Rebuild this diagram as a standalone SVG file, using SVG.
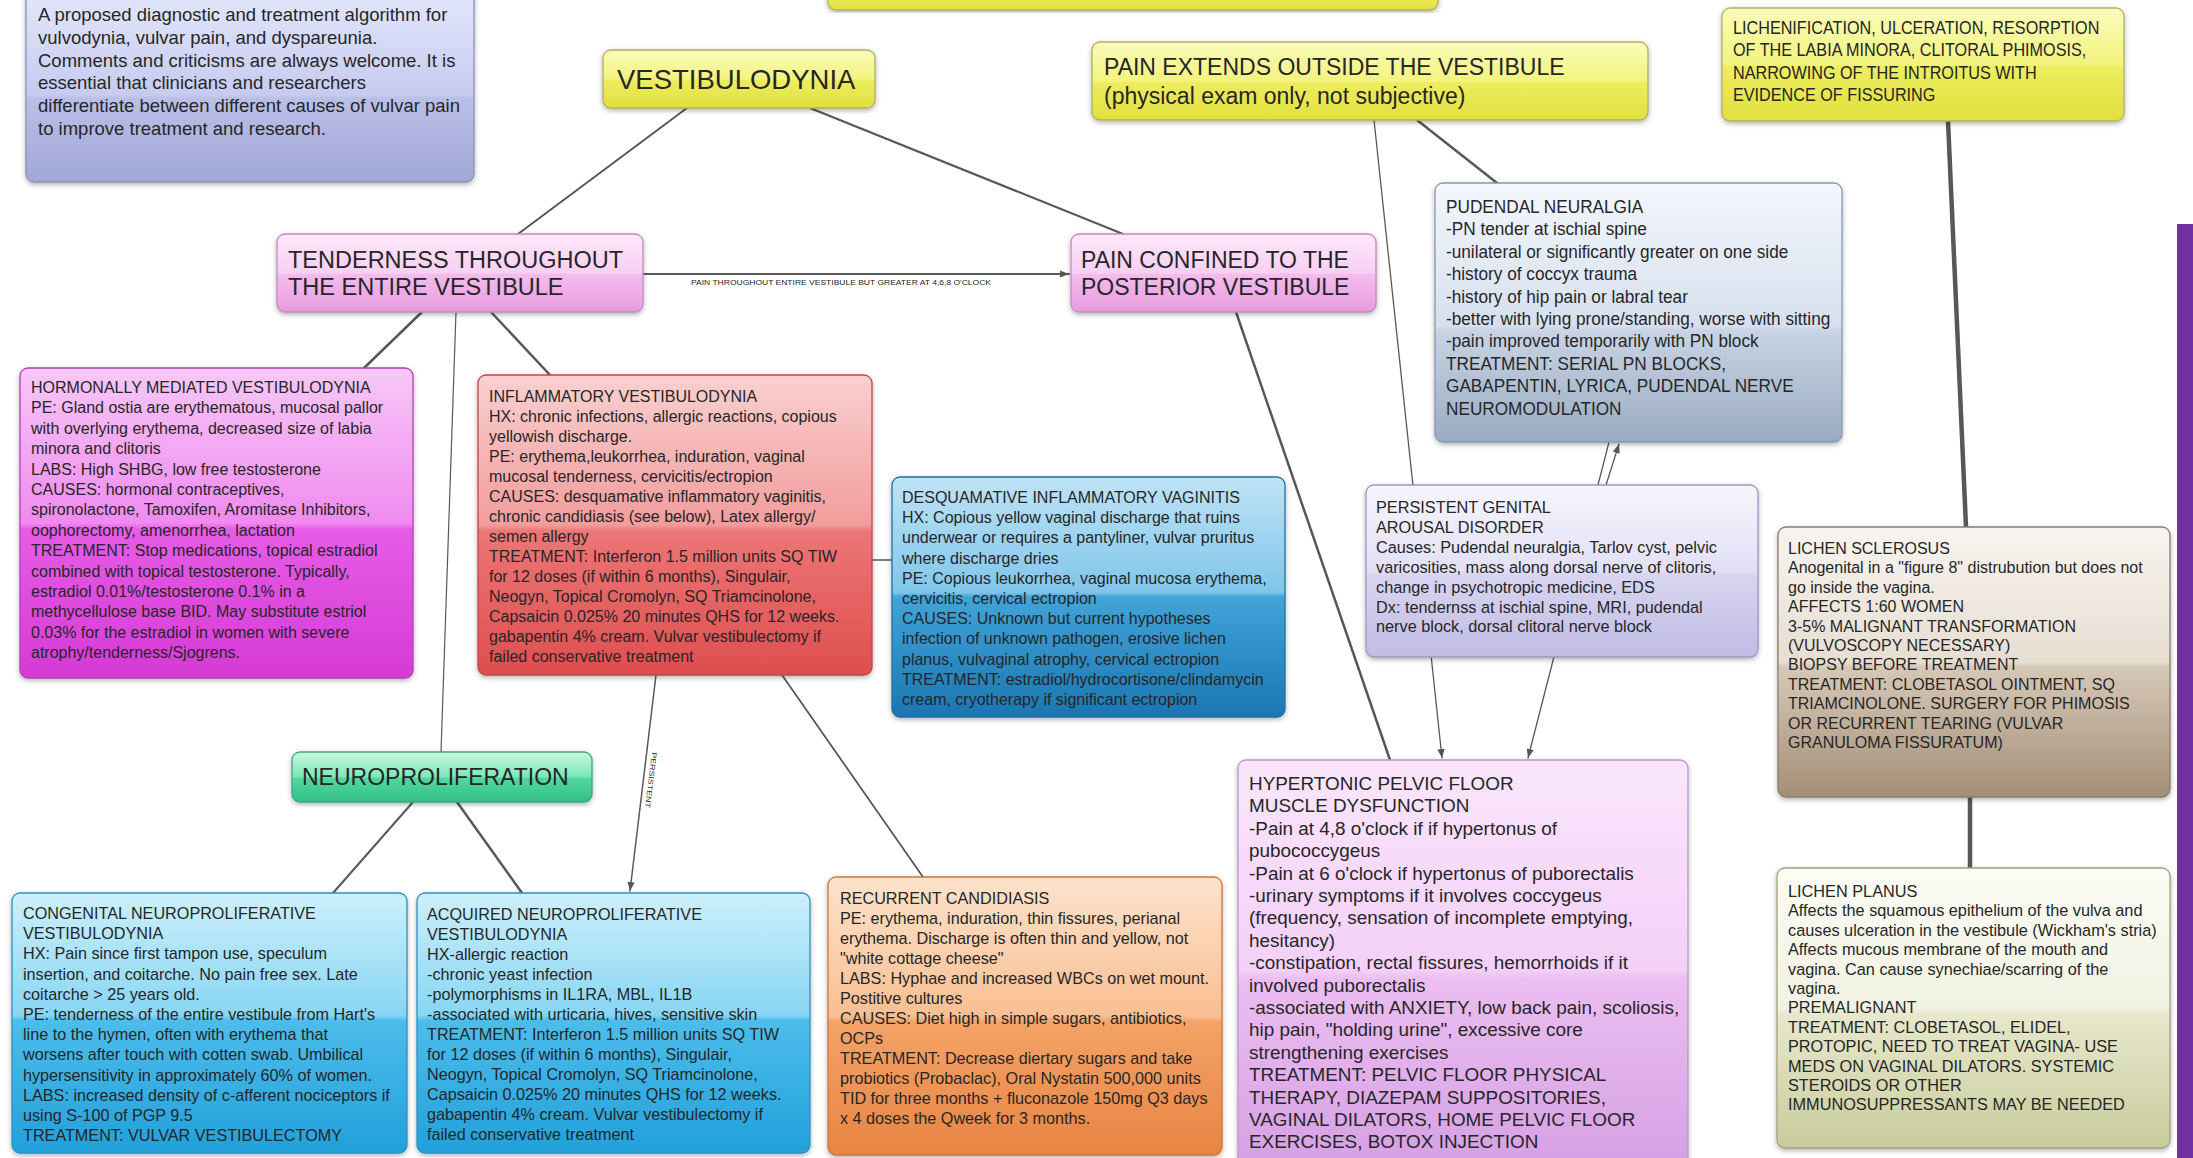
<svg xmlns="http://www.w3.org/2000/svg" width="2193" height="1158" viewBox="0 0 2193 1158">
<defs>
<linearGradient id="gYellow" x1="0" y1="0" x2="0" y2="1"><stop offset="0" stop-color="#fbfbbc"/><stop offset="0.5" stop-color="#f3f37e"/><stop offset="0.52" stop-color="#eded60"/><stop offset="1" stop-color="#e0e03e"/></linearGradient>
<linearGradient id="gPink" x1="0" y1="0" x2="0" y2="1"><stop offset="0" stop-color="#fde8fa"/><stop offset="0.5" stop-color="#f8cff3"/><stop offset="0.52" stop-color="#f4bced"/><stop offset="1" stop-color="#e89be0"/></linearGradient>
<linearGradient id="gMag" x1="0" y1="0" x2="0" y2="1"><stop offset="0" stop-color="#f7c8f7"/><stop offset="0.5" stop-color="#f08af0"/><stop offset="0.52" stop-color="#e65ce6"/><stop offset="1" stop-color="#d63ad6"/></linearGradient>
<linearGradient id="gRed" x1="0" y1="0" x2="0" y2="1"><stop offset="0" stop-color="#f9d0d0"/><stop offset="0.5" stop-color="#f39c9c"/><stop offset="0.52" stop-color="#ed7676"/><stop offset="1" stop-color="#de4e4e"/></linearGradient>
<linearGradient id="gBlue" x1="0" y1="0" x2="0" y2="1"><stop offset="0" stop-color="#bfe3f6"/><stop offset="0.48" stop-color="#80c6ea"/><stop offset="0.5" stop-color="#40a4d8"/><stop offset="1" stop-color="#1b76b2"/></linearGradient>
<linearGradient id="gCyan" x1="0" y1="0" x2="0" y2="1"><stop offset="0" stop-color="#cdf0fc"/><stop offset="0.47" stop-color="#88d6f4"/><stop offset="0.49" stop-color="#4cbdec"/><stop offset="1" stop-color="#22a0da"/></linearGradient>
<linearGradient id="gGreen" x1="0" y1="0" x2="0" y2="1"><stop offset="0" stop-color="#c8f8e0"/><stop offset="0.5" stop-color="#7ae8b9"/><stop offset="0.52" stop-color="#52d8a0"/><stop offset="1" stop-color="#34c088"/></linearGradient>
<linearGradient id="gOrange" x1="0" y1="0" x2="0" y2="1"><stop offset="0" stop-color="#fde3cc"/><stop offset="0.5" stop-color="#f8bf92"/><stop offset="0.52" stop-color="#f4a368"/><stop offset="1" stop-color="#e88442"/></linearGradient>
<linearGradient id="gViolet" x1="0" y1="0" x2="0" y2="1"><stop offset="0" stop-color="#fae6fc"/><stop offset="0.5" stop-color="#f4d0f8"/><stop offset="0.52" stop-color="#ecbef2"/><stop offset="1" stop-color="#d49ee2"/></linearGradient>
<linearGradient id="gLav" x1="0" y1="0" x2="0" y2="1"><stop offset="0" stop-color="#e4e8fc"/><stop offset="0.55" stop-color="#c6cbef"/><stop offset="0.57" stop-color="#babfe7"/><stop offset="1" stop-color="#a2a8d6"/></linearGradient>
<linearGradient id="gLav2" x1="0" y1="0" x2="0" y2="1"><stop offset="0" stop-color="#f6f5fd"/><stop offset="0.5" stop-color="#e2e0f6"/><stop offset="0.52" stop-color="#d8d5f1"/><stop offset="1" stop-color="#c0bce4"/></linearGradient>
<linearGradient id="gSteel" x1="0" y1="0" x2="0" y2="1"><stop offset="0" stop-color="#f4f7fc"/><stop offset="0.55" stop-color="#d6e0ee"/><stop offset="0.57" stop-color="#c8d4e4"/><stop offset="1" stop-color="#9aaac0"/></linearGradient>
<linearGradient id="gTan" x1="0" y1="0" x2="0" y2="1"><stop offset="0" stop-color="#f7f4ef"/><stop offset="0.5" stop-color="#e7ded2"/><stop offset="0.52" stop-color="#d6c8b6"/><stop offset="1" stop-color="#a48e78"/></linearGradient>
<linearGradient id="gOlive" x1="0" y1="0" x2="0" y2="1"><stop offset="0" stop-color="#fcfcf5"/><stop offset="0.5" stop-color="#f1f2e2"/><stop offset="0.52" stop-color="#e7e8cc"/><stop offset="1" stop-color="#c8cc9c"/></linearGradient>
<filter id="sh" x="-5%" y="-5%" width="110%" height="115%"><feDropShadow dx="0" dy="2" stdDeviation="2.5" flood-color="#000" flood-opacity="0.3"/></filter>
<marker id="arr" viewBox="0 0 10 10" refX="10" refY="5" markerWidth="10" markerHeight="9" markerUnits="userSpaceOnUse" orient="auto"><path d="M0,1 L10,5 L0,9 z" fill="#555"/></marker>
</defs>
<style>
.t{font-family:"Liberation Sans",Arial,Helvetica,sans-serif;fill:#262626}
.box{filter:url(#sh);stroke-width:1.3}
.c{fill:none;stroke:#585858;stroke-linecap:round}
</style>
<rect width="2193" height="1158" fill="#ffffff"/>

<g id="connectors">
<path class="c" d="M687,108 L518,234" stroke-width="2"/>
<path class="c" d="M810,108 L1123,234" stroke-width="2.2"/>
<path class="c" d="M643,274 L1069,274" stroke-width="2" stroke="#6a6a6a" marker-end="url(#arr)"/>
<path class="c" d="M422,312 L364,368" stroke-width="2.5"/>
<path class="c" d="M456,312 L441,752" stroke-width="1.2"/>
<path class="c" d="M491,312 L550,375" stroke-width="2.5"/>
<path class="c" d="M656,675 L630,891" stroke-width="1.5" marker-end="url(#arr)"/>
<path class="c" d="M782,675 L923,877" stroke-width="1.8"/>
<path class="c" d="M872,560 L892,560" stroke-width="1.5"/>
<path class="c" d="M413,802 L333,893" stroke-width="2"/>
<path class="c" d="M457,802 L522,893" stroke-width="2.5"/>
<path class="c" d="M1236,312 L1390,760" stroke-width="2.5"/>
<path class="c" d="M1417,120 L1497,183" stroke-width="2.5"/>
<path class="c" d="M1374,120 L1442,758" stroke-width="1.3" marker-end="url(#arr)"/>
<path class="c" d="M1609,442 L1528,758" stroke-width="1.3" marker-end="url(#arr)"/>
<path class="c" d="M1606,485 L1619,444" stroke-width="1.3" marker-end="url(#arr)"/>
<path class="c" d="M1948,121 L1966,527" stroke-width="4.5" stroke="#6a6a6a"/>
<path class="c" d="M1948,121 L1966,527" stroke-width="1.5" stroke="#e6e6e6"/>
<path class="c" d="M1970,797 L1970,868" stroke-width="4.5" stroke="#7a7a7a"/>
<path class="c" d="M1970,797 L1970,868" stroke-width="1.5" stroke="#e6e6e6"/>
<text class="t" x="691" y="285" font-size="7" fill="#666" textLength="300" lengthAdjust="spacingAndGlyphs">PAIN THROUGHOUT ENTIRE VESTIBULE BUT GREATER AT 4,6,8 O'CLOCK</text>
<text class="t" transform="translate(652,752) rotate(97)" font-size="7" fill="#666" textLength="56" lengthAdjust="spacingAndGlyphs">PERSISTENT</text>
</g>

<g id="node-intro">
<rect class="box" x="26" y="-12" width="448" height="194" rx="8" fill="url(#gLav)" stroke="#8a90bc"/>
<text class="t" x="38" y="21" font-size="18.5"><tspan x="38">A proposed diagnostic and treatment algorithm for</tspan><tspan x="38" dy="22.8">vulvodynia, vulvar pain, and dyspareunia.</tspan><tspan x="38" dy="22.8">Comments and criticisms are always welcome. It is</tspan><tspan x="38" dy="22.8">essential that clinicians and researchers</tspan><tspan x="38" dy="22.8">differentiate between different causes of vulvar pain</tspan><tspan x="38" dy="22.8">to improve treatment and research.</tspan></text>
</g>

<g id="node-top">
<rect class="box" x="828" y="-20" width="610" height="30" rx="8" fill="url(#gYellow)" stroke="#b0b060"/>
</g>

<g id="node-vestibulodynia">
<rect class="box" x="603" y="50" width="272" height="58" rx="8" fill="url(#gYellow)" stroke="#b0b060"/>
<text class="t" x="617" y="89" font-size="27.5">VESTIBULODYNIA</text>
</g>

<g id="node-pain-extends">
<rect class="box" x="1092" y="42" width="556" height="78" rx="8" fill="url(#gYellow)" stroke="#b0b060"/>
<text class="t" x="1104" y="75" font-size="23"><tspan x="1104">PAIN EXTENDS OUTSIDE THE VESTIBULE</tspan><tspan x="1104" dy="29">(physical exam only, not subjective)</tspan></text>
</g>

<g id="node-lichenification">
<rect class="box" x="1722" y="8" width="402" height="113" rx="8" fill="url(#gYellow)" stroke="#b0b060"/>
<text class="t" transform="matrix(0.89 0 0 1 1733 34)" font-size="18.2"><tspan x="0">LICHENIFICATION, ULCERATION, RESORPTION</tspan><tspan x="0" dy="22.5">OF THE LABIA MINORA, CLITORAL PHIMOSIS,</tspan><tspan x="0" dy="22.5">NARROWING OF THE INTROITUS WITH</tspan><tspan x="0" dy="22.5">EVIDENCE OF FISSURING</tspan></text>
</g>

<g id="node-tenderness">
<rect class="box" x="277" y="234" width="366" height="78" rx="8" fill="url(#gPink)" stroke="#c08cc0"/>
<text class="t" x="288" y="268" font-size="23.5"><tspan x="288">TENDERNESS THROUGHOUT</tspan><tspan x="288" dy="27">THE ENTIRE VESTIBULE</tspan></text>
</g>

<g id="node-pain-confined">
<rect class="box" x="1071" y="234" width="305" height="78" rx="8" fill="url(#gPink)" stroke="#c08cc0"/>
<text class="t" x="1081" y="268" font-size="23"><tspan x="1081">PAIN CONFINED TO THE</tspan><tspan x="1081" dy="27">POSTERIOR VESTIBULE</tspan></text>
</g>

<g id="node-pudendal">
<rect class="box" x="1435" y="183" width="407" height="259" rx="8" fill="url(#gSteel)" stroke="#8898b0"/>
<text class="t" transform="matrix(0.93 0 0 1 1446 213)" font-size="18.5"><tspan x="0">PUDENDAL NEURALGIA</tspan><tspan x="0" dy="22.4">-PN tender at ischial spine</tspan><tspan x="0" dy="22.4">-unilateral or significantly greater on one side</tspan><tspan x="0" dy="22.4">-history of coccyx trauma</tspan><tspan x="0" dy="22.4">-history of hip pain or labral tear</tspan><tspan x="0" dy="22.4">-better with lying prone/standing, worse with sitting</tspan><tspan x="0" dy="22.4">-pain improved temporarily with PN block</tspan><tspan x="0" dy="22.4">TREATMENT: SERIAL PN BLOCKS,</tspan><tspan x="0" dy="22.4">GABAPENTIN, LYRICA, PUDENDAL NERVE</tspan><tspan x="0" dy="22.4">NEUROMODULATION</tspan></text>
</g>

<g id="node-hormonal">
<rect class="box" x="20" y="368" width="393" height="310" rx="8" fill="url(#gMag)" stroke="#b040b8"/>
<text class="t" x="31" y="393" font-size="16"><tspan x="31">HORMONALLY MEDIATED VESTIBULODYNIA</tspan><tspan x="31" dy="20.4">PE: Gland ostia are erythematous, mucosal pallor</tspan><tspan x="31" dy="20.4">with overlying erythema, decreased size of labia</tspan><tspan x="31" dy="20.4">minora and clitoris</tspan><tspan x="31" dy="20.4">LABS: High SHBG, low free testosterone</tspan><tspan x="31" dy="20.4">CAUSES: hormonal contraceptives,</tspan><tspan x="31" dy="20.4">spironolactone, Tamoxifen, Aromitase Inhibitors,</tspan><tspan x="31" dy="20.4">oophorectomy, amenorrhea, lactation</tspan><tspan x="31" dy="20.4">TREATMENT: Stop medications, topical estradiol</tspan><tspan x="31" dy="20.4">combined with topical testosterone. Typically,</tspan><tspan x="31" dy="20.4">estradiol 0.01%/testosterone 0.1% in a</tspan><tspan x="31" dy="20.4">methycellulose base BID. May substitute estriol</tspan><tspan x="31" dy="20.4">0.03% for the estradiol in women with severe</tspan><tspan x="31" dy="20.4">atrophy/tenderness/Sjogrens.</tspan></text>
</g>

<g id="node-inflammatory">
<rect class="box" x="478" y="375" width="394" height="300" rx="8" fill="url(#gRed)" stroke="#c04848"/>
<text class="t" x="489" y="402" font-size="16"><tspan x="489">INFLAMMATORY VESTIBULODYNIA</tspan><tspan x="489" dy="20">HX: chronic infections, allergic reactions, copious</tspan><tspan x="489" dy="20">yellowish discharge.</tspan><tspan x="489" dy="20">PE: erythema,leukorrhea, induration, vaginal</tspan><tspan x="489" dy="20">mucosal tenderness, cervicitis/ectropion</tspan><tspan x="489" dy="20">CAUSES: desquamative inflammatory vaginitis,</tspan><tspan x="489" dy="20">chronic candidiasis (see below), Latex allergy/</tspan><tspan x="489" dy="20">semen allergy</tspan><tspan x="489" dy="20">TREATMENT: Interferon 1.5 million units SQ TIW</tspan><tspan x="489" dy="20">for 12 doses (if within 6 months), Singulair,</tspan><tspan x="489" dy="20">Neogyn, Topical Cromolyn, SQ Triamcinolone,</tspan><tspan x="489" dy="20">Capsaicin 0.025% 20 minutes QHS for 12 weeks.</tspan><tspan x="489" dy="20">gabapentin 4% cream. Vulvar vestibulectomy if</tspan><tspan x="489" dy="20">failed conservative treatment</tspan></text>
</g>

<g id="node-desquamative">
<rect class="box" x="892" y="477" width="393" height="240" rx="8" fill="url(#gBlue)" stroke="#2070a0"/>
<text class="t" x="902" y="503" font-size="16"><tspan x="902">DESQUAMATIVE INFLAMMATORY VAGINITIS</tspan><tspan x="902" dy="20.2">HX: Copious yellow vaginal discharge that ruins</tspan><tspan x="902" dy="20.2">underwear or requires a pantyliner, vulvar pruritus</tspan><tspan x="902" dy="20.2">where discharge dries</tspan><tspan x="902" dy="20.2">PE: Copious leukorrhea, vaginal mucosa erythema,</tspan><tspan x="902" dy="20.2">cervicitis, cervical ectropion</tspan><tspan x="902" dy="20.2">CAUSES: Unknown but current hypotheses</tspan><tspan x="902" dy="20.2">infection of unknown pathogen, erosive lichen</tspan><tspan x="902" dy="20.2">planus, vulvaginal atrophy, cervical ectropion</tspan><tspan x="902" dy="20.2">TREATMENT: estradiol/hydrocortisone/clindamycin</tspan><tspan x="902" dy="20.2">cream, cryotherapy if significant ectropion</tspan></text>
</g>

<g id="node-persistent">
<rect class="box" x="1366" y="485" width="392" height="172" rx="8" fill="url(#gLav2)" stroke="#9a98c0"/>
<text class="t" x="1376" y="513" font-size="16.3"><tspan x="1376">PERSISTENT GENITAL</tspan><tspan x="1376" dy="19.9">AROUSAL DISORDER</tspan><tspan x="1376" dy="19.9">Causes: Pudendal neuralgia, Tarlov cyst, pelvic</tspan><tspan x="1376" dy="19.9">varicosities, mass along dorsal nerve of clitoris,</tspan><tspan x="1376" dy="19.9">change in psychotropic medicine, EDS</tspan><tspan x="1376" dy="19.9">Dx: tendernss at ischial spine, MRI, pudendal</tspan><tspan x="1376" dy="19.9">nerve block, dorsal clitoral nerve block</tspan></text>
</g>

<g id="node-lichen-sclerosus">
<rect class="box" x="1778" y="527" width="392" height="270" rx="8" fill="url(#gTan)" stroke="#8c7c6c"/>
<text class="t" x="1788" y="554" font-size="16"><tspan x="1788">LICHEN SCLEROSUS</tspan><tspan x="1788" dy="19.4">Anogenital in a "figure 8" distrubution but does not</tspan><tspan x="1788" dy="19.4">go inside the vagina.</tspan><tspan x="1788" dy="19.4">AFFECTS 1:60 WOMEN</tspan><tspan x="1788" dy="19.4">3-5% MALIGNANT TRANSFORMATION</tspan><tspan x="1788" dy="19.4">(VULVOSCOPY NECESSARY)</tspan><tspan x="1788" dy="19.4">BIOPSY BEFORE TREATMENT</tspan><tspan x="1788" dy="19.4">TREATMENT: CLOBETASOL OINTMENT, SQ</tspan><tspan x="1788" dy="19.4">TRIAMCINOLONE. SURGERY FOR PHIMOSIS</tspan><tspan x="1788" dy="19.4">OR RECURRENT TEARING (VULVAR</tspan><tspan x="1788" dy="19.4">GRANULOMA FISSURATUM)</tspan></text>
</g>

<g id="node-neuroproliferation">
<rect class="box" x="292" y="752" width="300" height="50" rx="8" fill="url(#gGreen)" stroke="#40a878"/>
<text class="t" x="302" y="785" font-size="23">NEUROPROLIFERATION</text>
</g>

<g id="node-congenital">
<rect class="box" x="12" y="893" width="395" height="260" rx="8" fill="url(#gCyan)" stroke="#3090c0"/>
<text class="t" x="23" y="919" font-size="16.2"><tspan x="23">CONGENITAL NEUROPROLIFERATIVE</tspan><tspan x="23" dy="20.2">VESTIBULODYNIA</tspan><tspan x="23" dy="20.2">HX: Pain since first tampon use, speculum</tspan><tspan x="23" dy="20.2">insertion, and coitarche. No pain free sex. Late</tspan><tspan x="23" dy="20.2">coitarche &gt; 25 years old.</tspan><tspan x="23" dy="20.2">PE: tenderness of the entire vestibule from Hart's</tspan><tspan x="23" dy="20.2">line to the hymen, often with erythema that</tspan><tspan x="23" dy="20.2">worsens after touch with cotten swab. Umbilical</tspan><tspan x="23" dy="20.2">hypersensitivity in approximately 60% of women.</tspan><tspan x="23" dy="20.2">LABS: increased density of c-afferent nociceptors if</tspan><tspan x="23" dy="20.2">using S-100 of PGP 9.5</tspan><tspan x="23" dy="20.2">TREATMENT: VULVAR VESTIBULECTOMY</tspan></text>
</g>

<g id="node-acquired">
<rect class="box" x="417" y="893" width="393" height="260" rx="8" fill="url(#gCyan)" stroke="#3090c0"/>
<text class="t" x="427" y="920" font-size="16.2"><tspan x="427">ACQUIRED NEUROPROLIFERATIVE</tspan><tspan x="427" dy="20">VESTIBULODYNIA</tspan><tspan x="427" dy="20">HX-allergic reaction</tspan><tspan x="427" dy="20">-chronic yeast infection</tspan><tspan x="427" dy="20">-polymorphisms in IL1RA, MBL, IL1B</tspan><tspan x="427" dy="20">-associated with urticaria, hives, sensitive skin</tspan><tspan x="427" dy="20">TREATMENT: Interferon 1.5 million units SQ TIW</tspan><tspan x="427" dy="20">for 12 doses (if within 6 months), Singulair,</tspan><tspan x="427" dy="20">Neogyn, Topical Cromolyn, SQ Triamcinolone,</tspan><tspan x="427" dy="20">Capsaicin 0.025% 20 minutes QHS for 12 weeks.</tspan><tspan x="427" dy="20">gabapentin 4% cream. Vulvar vestibulectomy if</tspan><tspan x="427" dy="20">failed conservative treatment</tspan></text>
</g>

<g id="node-recurrent-candidiasis">
<rect class="box" x="828" y="877" width="394" height="278" rx="8" fill="url(#gOrange)" stroke="#c87840"/>
<text class="t" x="840" y="904" font-size="16.2"><tspan x="840">RECURRENT CANDIDIASIS</tspan><tspan x="840" dy="20">PE: erythema, induration, thin fissures, perianal</tspan><tspan x="840" dy="20">erythema. Discharge is often thin and yellow, not</tspan><tspan x="840" dy="20">"white cottage cheese"</tspan><tspan x="840" dy="20">LABS: Hyphae and increased WBCs on wet mount.</tspan><tspan x="840" dy="20">Postitive cultures</tspan><tspan x="840" dy="20">CAUSES: Diet high in simple sugars, antibiotics,</tspan><tspan x="840" dy="20">OCPs</tspan><tspan x="840" dy="20">TREATMENT: Decrease diertary sugars and take</tspan><tspan x="840" dy="20">probiotics (Probaclac), Oral Nystatin 500,000 units</tspan><tspan x="840" dy="20">TID for three months + fluconazole 150mg Q3 days</tspan><tspan x="840" dy="20">x 4 doses the Qweek for 3 months.</tspan></text>
</g>

<g id="node-hypertonic">
<rect class="box" x="1238" y="760" width="450" height="420" rx="8" fill="url(#gViolet)" stroke="#b898c8"/>
<text class="t" x="1249" y="790" font-size="18.9"><tspan x="1249">HYPERTONIC PELVIC FLOOR</tspan><tspan x="1249" dy="22.4">MUSCLE DYSFUNCTION</tspan><tspan x="1249" dy="22.4">-Pain at 4,8 o'clock if if hypertonus of</tspan><tspan x="1249" dy="22.4">pubococcygeus</tspan><tspan x="1249" dy="22.4">-Pain at 6 o'clock if hypertonus of puborectalis</tspan><tspan x="1249" dy="22.4">-urinary symptoms if it involves coccygeus</tspan><tspan x="1249" dy="22.4">(frequency, sensation of incomplete emptying,</tspan><tspan x="1249" dy="22.4">hesitancy)</tspan><tspan x="1249" dy="22.4">-constipation, rectal fissures, hemorrhoids if it</tspan><tspan x="1249" dy="22.4">involved puborectalis</tspan><tspan x="1249" dy="22.4">-associated with ANXIETY, low back pain, scoliosis,</tspan><tspan x="1249" dy="22.4">hip pain, "holding urine", excessive core</tspan><tspan x="1249" dy="22.4">strengthening exercises</tspan><tspan x="1249" dy="22.4">TREATMENT: PELVIC FLOOR PHYSICAL</tspan><tspan x="1249" dy="22.4">THERAPY, DIAZEPAM SUPPOSITORIES,</tspan><tspan x="1249" dy="22.4">VAGINAL DILATORS, HOME PELVIC FLOOR</tspan><tspan x="1249" dy="22.4">EXERCISES, BOTOX INJECTION</tspan></text>
</g>

<g id="node-lichen-planus">
<rect class="box" x="1777" y="868" width="393" height="280" rx="8" fill="url(#gOlive)" stroke="#a0a080"/>
<text class="t" x="1788" y="897" font-size="16.3"><tspan x="1788">LICHEN PLANUS</tspan><tspan x="1788" dy="19.4">Affects the squamous epithelium of the vulva and</tspan><tspan x="1788" dy="19.4">causes ulceration in the vestibule (Wickham's stria)</tspan><tspan x="1788" dy="19.4">Affects mucous membrane of the mouth and</tspan><tspan x="1788" dy="19.4">vagina. Can cause synechiae/scarring of the</tspan><tspan x="1788" dy="19.4">vagina.</tspan><tspan x="1788" dy="19.4">PREMALIGNANT</tspan><tspan x="1788" dy="19.4">TREATMENT: CLOBETASOL, ELIDEL,</tspan><tspan x="1788" dy="19.4">PROTOPIC, NEED TO TREAT VAGINA- USE</tspan><tspan x="1788" dy="19.4">MEDS ON VAGINAL DILATORS. SYSTEMIC</tspan><tspan x="1788" dy="19.4">STEROIDS OR OTHER</tspan><tspan x="1788" dy="19.4">IMMUNOSUPPRESSANTS MAY BE NEEDED</tspan></text>
</g>

<rect id="purple-bar" x="2177" y="224" width="16" height="934" fill="#7030a0"/>
</svg>
